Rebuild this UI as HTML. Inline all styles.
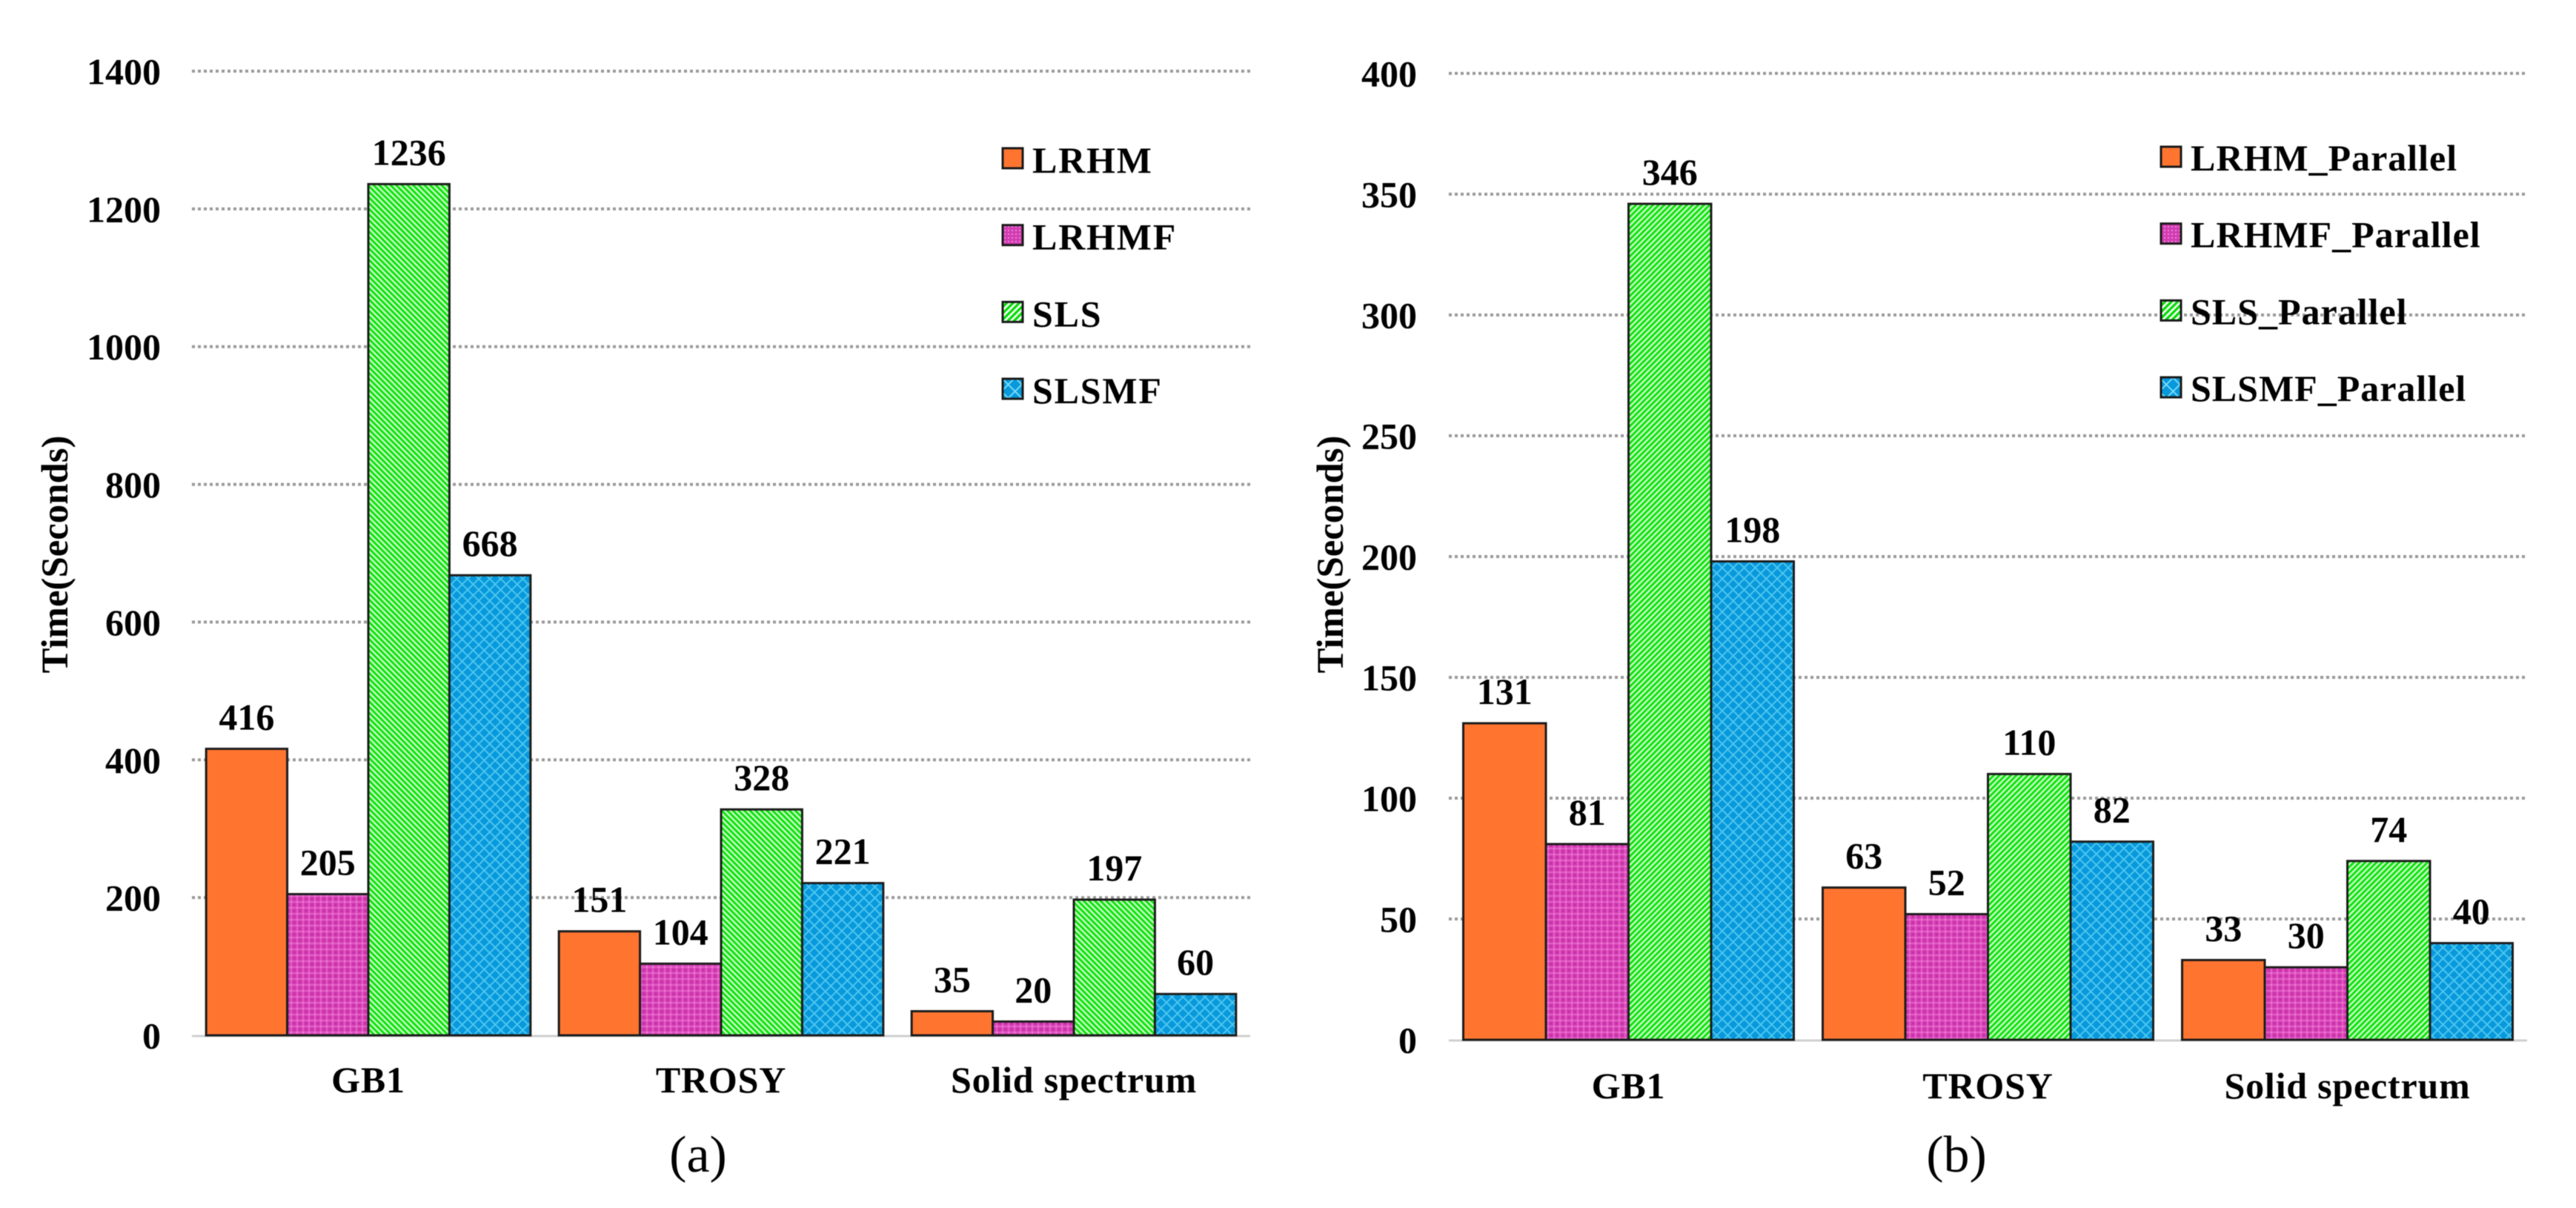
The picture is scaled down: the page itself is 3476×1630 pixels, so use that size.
<!DOCTYPE html>
<html lang="en">
<head>
<meta charset="utf-8">
<title>Time comparison charts</title>
<style>
html,body{margin:0;padding:0;background:#fff;}
svg{display:block;filter:blur(0.55px);}
text{font-family:"Liberation Serif",serif;fill:#000;}
.b{font-weight:bold;}
</style>
</head>
<body>
<svg id="fig" xmlns="http://www.w3.org/2000/svg" width="3476" height="1630" viewBox="0 0 3476 1630">
<defs>
<pattern id="mag" width="8" height="8" patternUnits="userSpaceOnUse">
<rect width="8" height="8" fill="#d23cb2"/>
<rect x="0" y="0" width="2" height="8" fill="#e45cc6"/>
<rect x="0" y="0" width="8" height="2" fill="#e45cc6"/>
<rect x="4" y="4" width="2" height="2" fill="#b92a9c"/>
<rect x="0" y="0" width="2" height="2" fill="#ef86d6"/>
</pattern>
<pattern id="grnL" width="5.4" height="5.4" patternUnits="userSpaceOnUse" patternTransform="rotate(-45)">
<rect width="5.4" height="5.4" fill="#d9ffd4"/>
<rect width="3.2" height="5.4" fill="#12e212"/>
</pattern>
<pattern id="grnR" width="5.4" height="5.4" patternUnits="userSpaceOnUse" patternTransform="rotate(45)">
<rect width="5.4" height="5.4" fill="#d9ffd4"/>
<rect width="3.2" height="5.4" fill="#12e212"/>
</pattern>
<pattern id="blu" width="10.5" height="10.5" patternUnits="userSpaceOnUse" patternTransform="rotate(45)">
<rect width="10.5" height="10.5" fill="#0898dc"/>
<rect width="2" height="10.5" fill="#4cc6ee"/>
<rect width="10.5" height="2" fill="#4cc6ee"/>
</pattern>
<pattern id="lgMag" width="5" height="5" patternUnits="userSpaceOnUse">
<rect width="5" height="5" fill="#d23cb2"/>
<rect width="2" height="2" fill="#ee88d8"/>
</pattern>
<pattern id="lgGrn" width="6" height="6" patternUnits="userSpaceOnUse" patternTransform="rotate(45)">
<rect width="6" height="6" fill="#ffffff"/>
<rect width="3.4" height="6" fill="#06dc06"/>
</pattern>
<pattern id="lgBlu" width="13" height="13" patternUnits="userSpaceOnUse" patternTransform="rotate(45) translate(2 2)">
<rect width="13" height="13" fill="#0898dc"/>
<rect width="1.8" height="13" fill="#7fe0f8"/>
<rect width="13" height="1.8" fill="#7fe0f8"/>
</pattern>
</defs>
</svg>
<script>
// ---- data ----
const categories = ["GB1", "TROSY", "Solid spectrum"];
const seriesNamesA = ["LRHM", "LRHMF", "SLS", "SLSMF"];
const seriesNamesB = ["LRHM_Parallel", "LRHMF_Parallel", "SLS_Parallel", "SLSMF_Parallel"];
const lrhmA  = [416, 151, 35];
const lrhmfA = [205, 104, 20];
const slsA   = [1236, 328, 197];
const slsmfA = [668, 221, 60];
const lrhmB  = [131, 63, 33];
const lrhmfB = [81, 52, 30];
const slsB   = [346, 110, 74];
const slsmfB = [198, 82, 40];
const ticksA = [0, 200, 400, 600, 800, 1000, 1200, 1400];
const ticksB = [0, 50, 100, 150, 200, 250, 300, 350, 400];
const axisTitle = "Time(Seconds)";
const panelLabels = ["(a)", "(b)"];

// ---- drawing ----
const svg = document.getElementById('fig');
const NS = 'http://www.w3.org/2000/svg';
function mk(tag, attrs, text) {
  const el = document.createElementNS(NS, tag);
  for (const k in attrs) el.setAttribute(k, attrs[k]);
  if (text !== undefined) el.textContent = text;
  svg.appendChild(el);
  return el;
}
function drawChart(cfg) {
  const maxTick = cfg.ticks[cfg.ticks.length - 1];
  const yScale = v => cfg.y0 - (v / maxTick) * (cfg.y0 - cfg.yTop);
  const groupW = (cfg.x1 - cfg.x0) / cfg.cats.length;
  const barW = groupW / 4.35;
  const xScale = (g, s) => cfg.x0 + g * groupW + (groupW - 4 * barW) / 2 + s * barW;

  cfg.ticks.forEach(t => {
    if (t !== 0) {
      const line = mk('line', {x1: cfg.x0, x2: cfg.x1, y1: yScale(t), y2: yScale(t), stroke: '#999', 'stroke-width': 4, 'stroke-dasharray': '4 4'});
      
      
    }
    const lab = mk('text', {x: cfg.tickX, y: yScale(t) + 17.5, 'text-anchor': 'end', 'font-size': 50, class: 'b'}, String(t));
    
    
  });
  const base = mk('line', {x1: cfg.x0, x2: cfg.x1, y1: cfg.y0 + 1, y2: cfg.y0 + 1, stroke: '#cfcfcf', 'stroke-width': 3});
  
  

  cfg.series.forEach((vals, s) => {
    vals.forEach((v, g) => {
      const x = xScale(g, s), y = yScale(v);
      const bar = mk('rect', {x: x, y: y, width: barW, height: cfg.y0 - y, fill: cfg.fills[s], stroke: '#1c1c1c', 'stroke-width': 3});
      
      
    });
  });
  cfg.series.forEach((vals, s) => {
    vals.forEach((v, g) => {
      const lab = mk('text', {x: xScale(g, s) + barW / 2, y: yScale(v) - 26, 'text-anchor': 'middle', 'font-size': 50, class: 'b'}, String(v));
      
      
    });
  });
  cfg.cats.forEach((c, g) => {
    const lab = mk('text', {x: cfg.x0 + (g + 0.5) * groupW, y: cfg.catY, 'text-anchor': 'middle', 'font-size': 50, 'letter-spacing': 0.8, class: 'b'}, c);
    
    
  });
  const title = mk('text', {x: 0, y: 0, transform: 'translate(' + cfg.titleX + ' 748) rotate(-90)', 'text-anchor': 'middle', 'font-size': 50.8, class: 'b'}, axisTitle);
  
  

  cfg.names.forEach((n, i) => {
    const sw = mk('rect', {x: cfg.lgX, y: cfg.lgY + i * 103.7, width: 27, height: 27, fill: cfg.lgFills[i], stroke: '#1a1a1a', 'stroke-width': 3});
    
    
    const t = mk('text', {x: cfg.lgX + 40, y: cfg.lgBase + i * 103.7, 'font-size': 50, 'letter-spacing': cfg.lgSpacing, class: 'b'}, n);
    
    
  });
  const panel = mk('text', {x: cfg.panelX, y: 1581, 'text-anchor': 'middle', 'font-size': 70}, cfg.panel);
  
  
}
drawChart({
  id: 'chart-a', cats: categories, names: seriesNamesA,
  series: [lrhmA, lrhmfA, slsA, slsmfA], ticks: ticksA,
  fills: ['#ff7530', 'url(#mag)', 'url(#grnL)', 'url(#blu)'],
  lgFills: ['#ff7530', 'url(#lgMag)', 'url(#lgGrn)', 'url(#lgBlu)'],
  x0: 259, x1: 1687, y0: 1397, yTop: 96, tickX: 217, catY: 1474, titleX: 91,
  lgX: 1353, lgY: 200, lgBase: 233, lgSpacing: 1.8, panel: panelLabels[0], panelX: 942
});
drawChart({
  id: 'chart-b', cats: categories, names: seriesNamesB,
  series: [lrhmB, lrhmfB, slsB, slsmfB], ticks: ticksB,
  fills: ['#ff7530', 'url(#mag)', 'url(#grnR)', 'url(#blu)'],
  lgFills: ['#ff7530', 'url(#lgMag)', 'url(#lgGrn)', 'url(#lgBlu)'],
  x0: 1955, x1: 3410, y0: 1403, yTop: 99, tickX: 1912, catY: 1482, titleX: 1812,
  lgX: 2916, lgY: 198, lgBase: 230, lgSpacing: 1.0, panel: panelLabels[1], panelX: 2640
});
</script>
</body>
</html>
